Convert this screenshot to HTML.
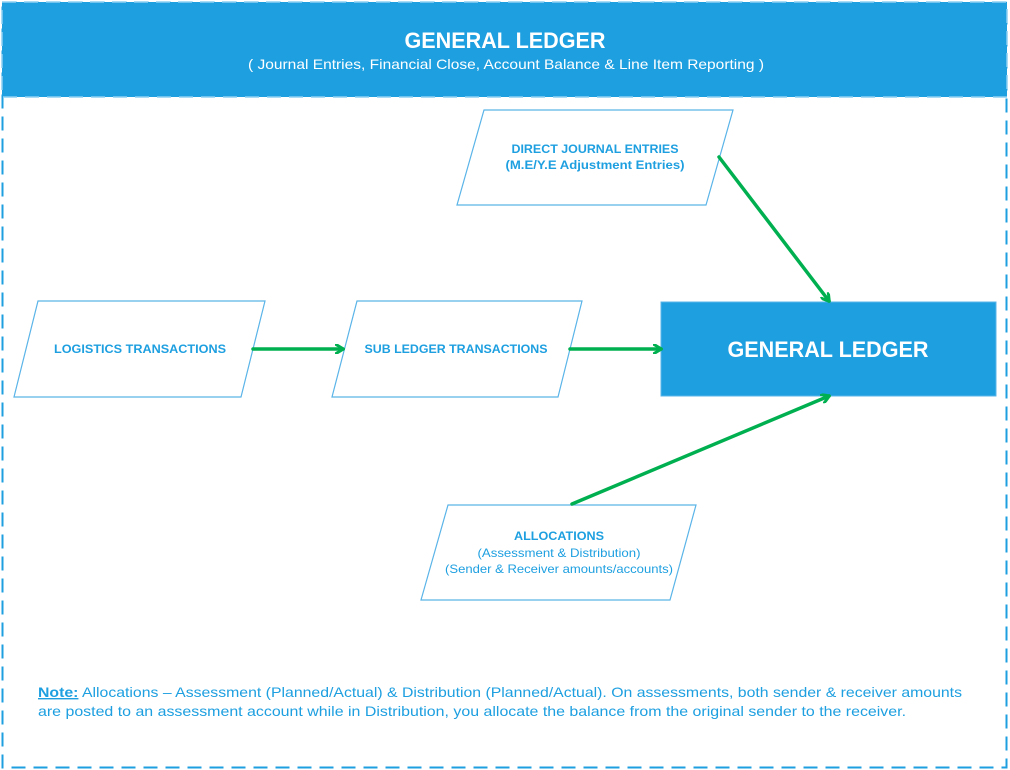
<!DOCTYPE html>
<html><head><meta charset="utf-8"><style>
html,body{margin:0;padding:0;background:#fff;}
svg{display:block;}
text{font-family:"Liberation Sans",sans-serif;}
</style></head><body>
<svg width="1010" height="770" viewBox="0 0 1010 770" xmlns="http://www.w3.org/2000/svg">
<defs>
<marker id="ah" markerWidth="10" markerHeight="10" refX="8" refY="5" orient="auto" markerUnits="userSpaceOnUse" viewBox="0 0 10 10">
<path d="M1,0.5 L8.5,5 L1,9.5" fill="none" stroke="#00b050" stroke-width="3" stroke-linecap="round" stroke-linejoin="round"/>
</marker>
</defs>
<rect x="2.5" y="2.5" width="1004" height="765" fill="none" stroke="#1d9fe0" stroke-width="2" stroke-dasharray="14 8"/>
<rect x="2" y="2" width="1005" height="95" fill="#1d9fe0"/>
<rect x="2" y="2" width="1005" height="95" fill="none" stroke="#8fd0f2" stroke-width="1.5" stroke-dasharray="14 8"/>
<text x="505" y="48" text-anchor="middle" fill="#fff" font-size="22" font-weight="bold" textLength="201" lengthAdjust="spacingAndGlyphs">GENERAL LEDGER</text>
<text x="506" y="69" text-anchor="middle" fill="#fff" font-size="14" textLength="516" lengthAdjust="spacingAndGlyphs">( Journal Entries, Financial Close, Account Balance &amp; Line Item Reporting )</text>

<g fill="#fff" stroke="#5ab4e8" stroke-width="1.2">
<polygon points="484,110 733,110 706,205 457,205"/>
<polygon points="38,301 265,301 241,397 14,397"/>
<polygon points="357,301 582,301 558,397 332,397"/>
<polygon points="448,505 696,505 670,600 421,600"/>
</g>
<rect x="661" y="302" width="335" height="94" fill="#1d9fe0" stroke="#5ab4e8" stroke-width="1"/>
<text x="828" y="357" text-anchor="middle" fill="#fff" font-size="22" font-weight="bold" textLength="201" lengthAdjust="spacingAndGlyphs">GENERAL LEDGER</text>

<g fill="#1d9fe0" font-size="12" font-weight="bold" text-anchor="middle">
<text x="595" y="153" textLength="167" lengthAdjust="spacingAndGlyphs">DIRECT JOURNAL ENTRIES</text>
<text x="595" y="169" textLength="179" lengthAdjust="spacingAndGlyphs">(M.E/Y.E Adjustment Entries)</text>
<text x="140" y="353" textLength="172" lengthAdjust="spacingAndGlyphs">LOGISTICS TRANSACTIONS</text>
<text x="456" y="353" textLength="183" lengthAdjust="spacingAndGlyphs">SUB LEDGER TRANSACTIONS</text>
<text x="559" y="540" textLength="90" lengthAdjust="spacingAndGlyphs">ALLOCATIONS</text>
</g>
<g fill="#1d9fe0" font-size="12" text-anchor="middle">
<text x="559" y="557" textLength="163" lengthAdjust="spacingAndGlyphs">(Assessment &amp; Distribution)</text>
<text x="559" y="573" textLength="228" lengthAdjust="spacingAndGlyphs">(Sender &amp; Receiver amounts/accounts)</text>
</g>

<g stroke="#00b050" stroke-width="3.5" fill="none" stroke-linecap="round">
<line x1="719" y1="157" x2="829" y2="301" marker-end="url(#ah)"/>
<line x1="253" y1="349" x2="343" y2="349" marker-end="url(#ah)"/>
<line x1="570" y1="349" x2="661" y2="349" marker-end="url(#ah)"/>
<line x1="572" y1="504" x2="829" y2="396" marker-end="url(#ah)"/>
</g>

<g fill="#1d9fe0" font-size="14">
<text x="38" y="697" textLength="924" lengthAdjust="spacingAndGlyphs"><tspan font-weight="bold" text-decoration="underline">Note:</tspan> Allocations – Assessment (Planned/Actual) &amp; Distribution (Planned/Actual). On assessments, both sender &amp; receiver amounts</text>
<text x="38" y="716" textLength="868" lengthAdjust="spacingAndGlyphs">are posted to an assessment account while in Distribution, you allocate the balance from the original sender to the receiver.</text>
</g>
</svg>
</body></html>
